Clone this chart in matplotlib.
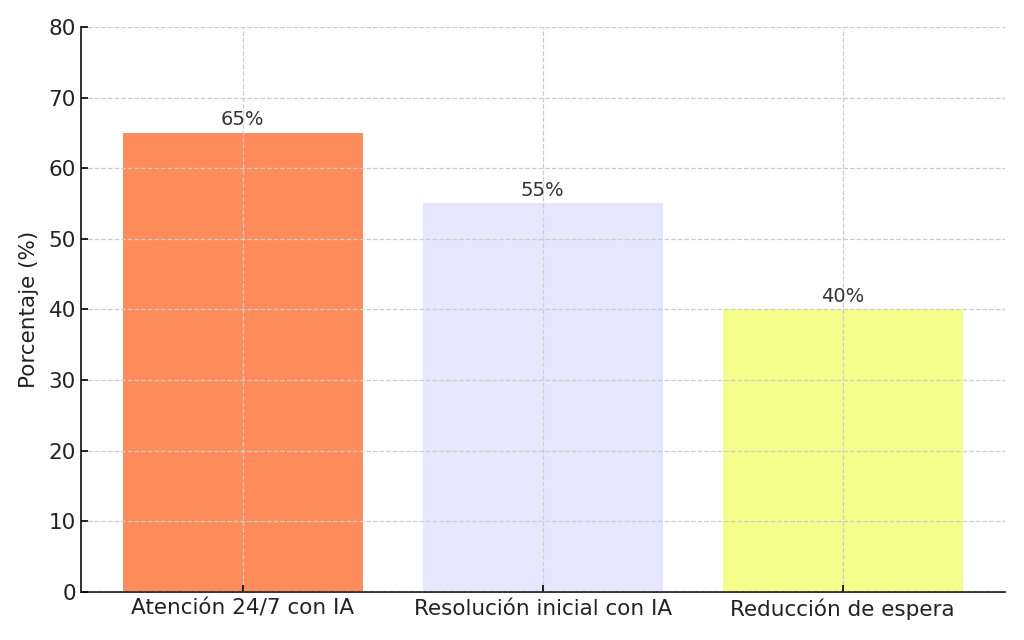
import matplotlib
matplotlib.use("Agg")
import matplotlib.pyplot as plt

categorias = ["Atención 24/7 con IA", "Resolución inicial con IA", "Reducción de espera"]
porcentajes = [65, 55, 40]
colores = ["#FF8C5A", "#E6E6FF", "#F5FF8C"]

fig, ax = plt.subplots(figsize=(10.24, 6.4), dpi=100)
fig.subplots_adjust(left=0.079, right=0.981, top=0.958, bottom=0.075)

barras = ax.bar(categorias, porcentajes, color=colores, width=0.8)
for b, v in zip(barras, porcentajes):
    ax.text(b.get_x() + b.get_width() / 2, v + 0.5, f"{v}%", ha="center", va="bottom",
            fontsize=14, color="#333333")

ax.set_ylim(0, 80)
ax.set_ylabel("Porcentaje (%)", fontsize=15.5, color="#222222", labelpad=7)
ax.tick_params(axis="both", direction="in", labelsize=15.5, labelcolor="#222222", width=1.2, length=5)
ax.tick_params(axis="x", pad=5)
ax.grid(True, linestyle="--", color="#cccccc", linewidth=0.9)
ax.set_axisbelow(False)
for s in ["top", "right"]:
    ax.spines[s].set_visible(False)
for s in ["left", "bottom"]:
    ax.spines[s].set_linewidth(1.3)
    ax.spines[s].set_color("#222222")

fig.savefig("out.png", dpi=100)
